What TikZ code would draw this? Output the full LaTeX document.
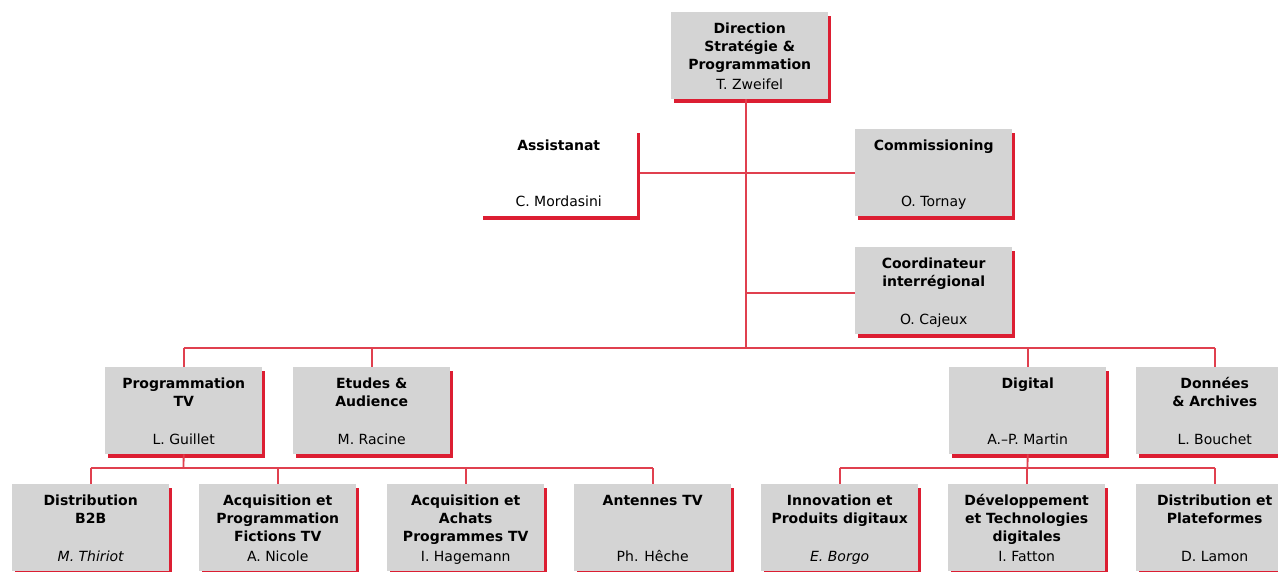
\documentclass[tikz,border=0pt]{standalone}
\usepackage{fontspec}
\setmainfont{DejaVu Sans}
\usetikzlibrary{shadows}
\definecolor{srgred}{HTML}{DC1E32}
\definecolor{boxgrey}{HTML}{D4D4D4}
\definecolor{linered}{HTML}{E0404F}
\tikzset{
  orgbox/.style={rectangle, minimum width=157pt, minimum height=87pt, inner sep=0pt,
    anchor=north west, fill=boxgrey,
    general shadow={fill=srgred, shadow xshift=3pt, shadow yshift=-4pt}},
  whitebox/.style={orgbox, fill=white},
  ttl/.style={font=\fontsize{14}{18}\selectfont\bfseries, align=center, anchor=north, inner sep=0pt},
  nm/.style={font=\fontsize{14}{18}\selectfont, anchor=base, inner sep=0pt},
  conn/.style={draw=linered, line width=1.8pt},
}
\newcommand\orgunit[6]{%
  \node[#2] (#1) at (#3pt,-#4pt) {};
  \node[ttl] (#1-t) at ([yshift=-9.5pt]#1.north) {\rule{0pt}{12pt}#5};
  \node[nm] (#1-n) at ([yshift=10pt]#1.south) {#6};
}
\begin{document}
\begin{tikzpicture}
\useasboundingbox (0,0) rectangle (1278pt,-571pt);
\clip (0,0) rectangle (1278pt,-571pt);
% boxes
\orgunit{top}{orgbox}{671}{12}{Direction\\Stratégie \&\\Programmation}{T. Zweifel}
\orgunit{assist}{whitebox}{480}{129}{Assistanat}{C. Mordasini}
\orgunit{comm}{orgbox}{855}{129}{Commissioning}{O. Tornay}
\orgunit{coord}{orgbox}{855}{247}{Coordinateur\\interrégional}{O. Cajeux}
\orgunit{prog}{orgbox}{105}{367}{Programmation\\TV}{L. Guillet}
\orgunit{etud}{orgbox}{293}{367}{Etudes \&\\Audience}{M. Racine}
\orgunit{digi}{orgbox}{949}{367}{Digital}{A.–P. Martin}
\orgunit{donn}{orgbox}{1136}{367}{Données\\\& Archives}{L. Bouchet}
\orgunit{b2b}{orgbox}{12}{484}{Distribution\\B2B}{\itshape M. Thiriot}
\orgunit{fict}{orgbox}{199}{484}{Acquisition et\\Programmation\\Fictions TV}{A. Nicole}
\orgunit{acha}{orgbox}{387}{484}{Acquisition et\\Achats\\Programmes TV}{I. Hagemann}
\orgunit{ante}{orgbox}{574}{484}{Antennes TV}{Ph. Hêche}
\orgunit{inno}{orgbox}{761}{484}{Innovation et\\Produits digitaux}{\itshape E. Borgo}
\orgunit{deve}{orgbox}{948}{484}{Développement\\et Technologies\\digitales}{I. Fatton}
\orgunit{plat}{orgbox}{1136}{484}{Distribution et\\Plateformes}{D. Lamon}
% connector points
\coordinate (bus) at (746pt,-348pt);
\coordinate (cj) at (746pt,-293pt);
\coordinate (lbus) at (183.5pt,-468pt);
\coordinate (rbus) at (1027.5pt,-468pt);
% connectors
\draw[conn] (top.south -| bus) -- (bus);
\draw[conn] ([xshift=3pt]assist.east) -- (comm.west);
\draw[conn] (cj) -- (coord.west |- cj);
\draw[conn] (prog.north |- bus) -- (donn.north |- bus);
\foreach \n in {prog,etud,digi,donn} \draw[conn] (\n.north |- bus) -- (\n.north);
\draw[conn] (prog.south) -- (lbus);
\draw[conn] (b2b.north |- lbus) -- (ante.north |- lbus);
\foreach \n in {b2b,fict,acha,ante} \draw[conn] (\n.north |- lbus) -- (\n.north);
\draw[conn] (digi.south) -- (rbus);
\draw[conn] (inno.north |- rbus) -- (plat.north |- rbus);
\foreach \n in {inno,deve,plat} \draw[conn] (\n.north |- rbus) -- (\n.north);
\end{tikzpicture}
\end{document}
